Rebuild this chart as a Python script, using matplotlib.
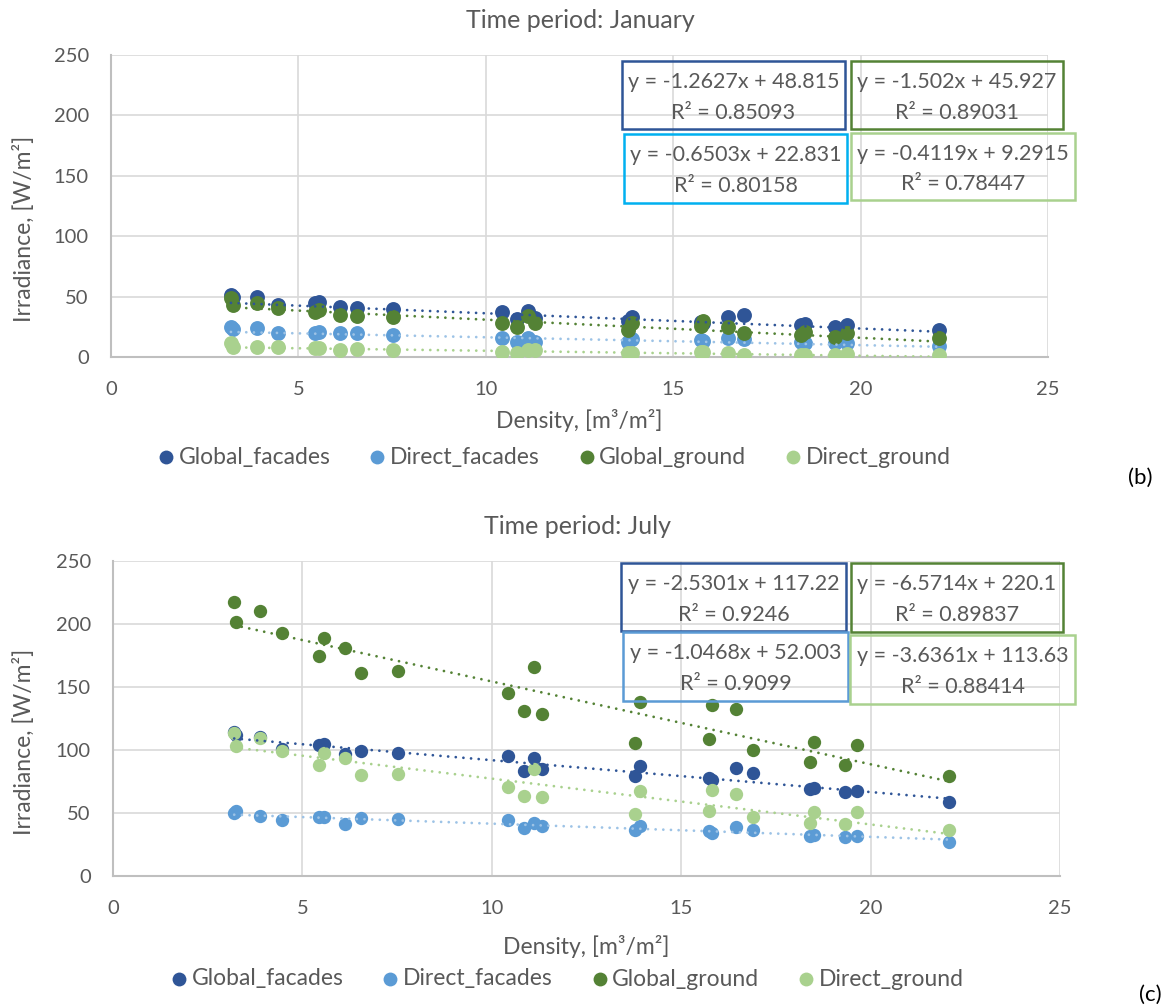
import numpy as np
import matplotlib
matplotlib.use("Agg")
import matplotlib.pyplot as plt
from matplotlib.patches import Rectangle

plt.rcParams['font.family'] = ['Lato', 'DejaVu Sans']

# density of each case, [m3/m2]
density = [3.20, 3.26, 3.89, 4.46, 5.44, 5.56, 6.12, 6.56, 7.52, 10.42, 10.84, 11.12,
           11.32, 13.79, 13.90, 15.73, 15.80, 16.45, 16.89, 18.41, 18.51, 19.32, 19.64, 22.08]

series_names = ['Global_facades', 'Direct_facades', 'Global_ground', 'Direct_ground']

# January irradiance
gf_jan = [51, 49.5, 50, 42.8, 45, 45.5, 41.4, 40.3, 39.7, 37, 31.2, 38.3,
          32.3, 30, 33.4, 29.2, 28.5, 33.4, 34.8, 26.5, 27, 25, 26.5, 22.3]
df_jan = [25, 23, 23.7, 20, 20, 21, 19.6, 19.6, 18.2, 15.4, 12.7, 15.4,
          12.7, 12.7, 15, 14, 13, 15.4, 14.5, 12.7, 12, 11.3, 11.3, 9]
gg_jan = [48.6, 43, 44.4, 40.3, 37.5, 38.9, 34.8, 34, 33.4, 28.4, 25.1, 34,
          27.9, 22, 27.9, 25.5, 29.5, 25, 19.6, 18.2, 21, 16.8, 19.6, 15.4]
dg_jan = [11.3, 8.5, 8.5, 8.5, 7.2, 7.2, 5.8, 6.5, 5.8, 4.4, 3, 5.8,
          5.8, 3, 3, 4, 4.5, 3.6, 1.7, 1.7, 1.7, 1.7, 2.3, 2]

# July irradiance
gf_jul = [114, 112, 110, 101, 104, 105, 97, 99, 98, 95, 83, 94,
          85, 79, 87, 77.5, 76, 86, 82, 69, 69.5, 67, 67.5, 58.5]
df_jul = [49.7, 51.6, 47.6, 44.4, 47.2, 46.5, 41.3, 45.8, 45.5, 44.7, 38.4, 42.3,
          39.7, 36.5, 39.7, 36, 34.4, 39, 36.5, 31.7, 32.5, 30.9, 31.5, 27.2]
gg_jul = [217.7, 201.8, 210.6, 192.9, 174.8, 189, 181.2, 160.9, 162.4, 145, 131, 165.6,
          128.8, 105.6, 138, 108.5, 136, 132.3, 100.2, 90.5, 106.1, 88.3, 104, 79.6]
dg_jul = [113.7, 103.2, 109.3, 99.5, 88.1, 97.4, 93.7, 80.2, 80.7, 70.9, 63.5, 84.7,
          63, 49, 67.5, 51.8, 68.3, 64.8, 46.8, 41.8, 51, 41, 50.6, 36.5]

# trendline coefficients shown on the chart
slope_jan = [-1.2627, -0.6503, -1.502, -0.4119]
icpt_jan = [48.815, 22.831, 45.927, 9.2915]
r2_jan = ['0.85093', '0.80158', '0.89031', '0.78447']
slope_jul = [-2.5301, -1.0468, -6.5714, -3.6361]
icpt_jul = [117.22, 52.003, 220.1, 113.63]
r2_jul = ['0.9246', '0.9099', '0.89837', '0.88414']

colors = ['#2F5597', '#5B9BD5', '#548235', '#A9D18E']
trend_colors = ['#2F5597', '#9DC3E6', '#548235', '#A9D18E']
txt = '#595959'

W, H = 1161, 1008
fig = plt.figure(figsize=(W / 100, H / 100), dpi=100)


def fx(px):
    return px / W


def fy(py):
    return 1 - py / H


def panel(left, top, right, bottom, title, title_x, data, slopes, icpts, r2s,
          box_colors, boxes, msize, mscale, xlab_y, leg_x, leg_y, ylab_y):
    ax = fig.add_axes([fx(left), fy(bottom), fx(right - left), (bottom - top) / H])
    hgt = bottom - top
    x = np.array(density)
    for vals, c, name in zip(data, colors, series_names):
        ax.scatter(x, vals, s=msize, color=c, zorder=3, label=name, linewidths=0)
    xl = np.array([x.min(), x.max()])
    for m, b, c in zip(slopes, icpts, trend_colors):
        ax.plot(xl, m * xl + b, color=c, lw=2.0, linestyle=(0, (0.01, 2.75)),
                dash_capstyle='round', zorder=4)
    ax.set_xlim(0, 25)
    ax.set_ylim(0, 250)
    ax.set_xticks(range(0, 26, 5))
    ax.set_yticks(range(0, 251, 50))
    ax.grid(True, color='#D9D9D9', lw=1.2, zorder=0)
    ax.set_axisbelow(True)
    for s in ['top', 'right']:
        ax.spines[s].set_visible(False)
    for s in ['left', 'bottom']:
        ax.spines[s].set_color('#BFBFBF')
        ax.spines[s].set_linewidth(1.5)
    ax.tick_params(length=0, labelsize=14.5, labelcolor=txt)
    ax.tick_params(axis='x', pad=17)
    ax.tick_params(axis='y', pad=16)
    fig.text(fx(title_x), fy(top - 35), title, fontsize=18, color=txt,
             ha='center', va='center')
    ax.set_xlabel('Density, [m³/m²]', fontsize=16.5, color=txt)
    ax.xaxis.label.set_va('center')
    ax.xaxis.set_label_coords(0.5, (bottom - xlab_y) / hgt)
    ax.set_ylabel('Irradiance, [W/m²]', fontsize=16.5, color=txt)
    ax.yaxis.label.set_va('center')
    ax.yaxis.set_label_coords((24 - left) / (right - left), (bottom - ylab_y) / hgt)
    leg = ax.legend(loc='center', bbox_to_anchor=((leg_x - left) / (right - left),
                                                  (bottom - leg_y) / hgt),
                    ncol=4, frameon=False, fontsize=16.5, handlelength=0.6,
                    handletextpad=0.25, columnspacing=1.75, markerscale=mscale,
                    borderpad=0, borderaxespad=0)
    for t in leg.get_texts():
        t.set_color(txt)
    # trendline equation boxes
    order = [0, 2, 1, 3]
    for k, (x0, y0, x1, y1) in zip(order, boxes):
        fig.add_artist(Rectangle((fx(x0), fy(y1)), fx(x1 - x0), (y1 - y0) / H,
                                 transform=fig.transFigure, fill=False,
                                 edgecolor=box_colors[k], lw=1.8))
        eq = 'y = %gx + %g' % (slopes[k], icpts[k])
        cx = fx((x0 + x1) / 2)
        fig.text(cx, fy(y0 + (y1 - y0) * 0.31), eq, ha='center', va='center',
                 fontsize=15.5, color=txt)
        fig.text(cx, fy(y0 + (y1 - y0) * 0.76), 'R² = ' + r2s[k], ha='center',
                 va='center', fontsize=15.5, color=txt)
    return ax


panel(111, 55, 1048, 357, 'Time period: January', 580,
      [gf_jan, df_jan, gg_jan, dg_jan], slope_jan, icpt_jan, r2_jan,
      ['#2F5597', '#00B0F0', '#548235', '#A9D18E'],
      [(622, 61, 845, 129), (851, 61, 1063, 129), (624, 134, 847, 203), (851, 133, 1075, 200)],
      115, 0.93, 420, 555, 457, 229)

panel(113, 561, 1060, 876, 'Time period: July', 578,
      [gf_jul, df_jul, gg_jul, dg_jul], slope_jul, icpt_jul, r2_jul,
      ['#2F5597', '#5B9BD5', '#548235', '#A9D18E'],
      [(621, 563, 846, 631), (851, 563, 1063, 632), (623, 632, 848, 701), (850, 635, 1075, 704)],
      92, 1.04, 946, 568, 979, 742)

fig.text(fx(1128), fy(478), '(b)', fontsize=16, color='black', va='center')
fig.text(fx(1139), fy(995), '(c)', fontsize=16, color='black', va='center')

fig.savefig('out.png', dpi=100)
